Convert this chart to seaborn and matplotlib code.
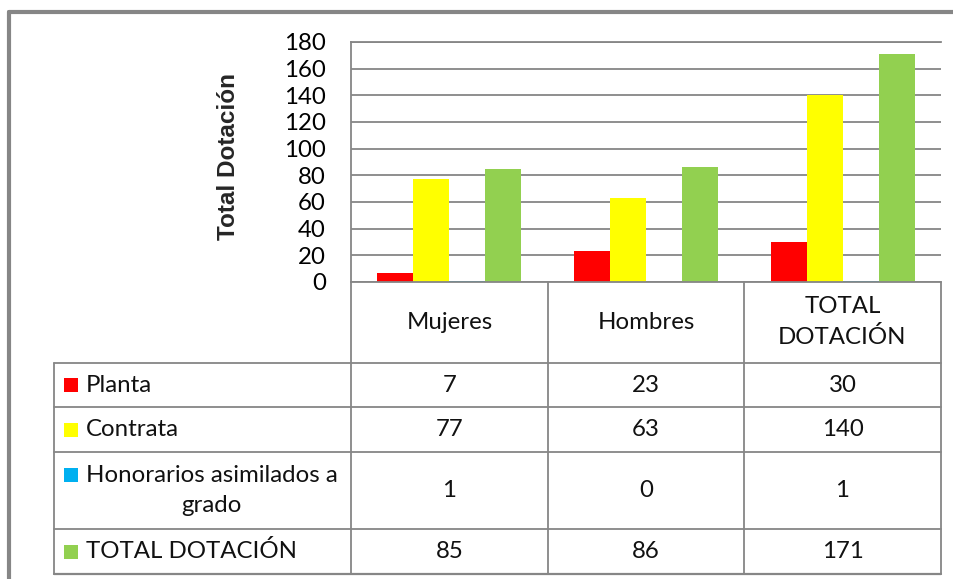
import pandas as pd
import matplotlib.pyplot as plt
from matplotlib.lines import Line2D
from matplotlib.patches import Rectangle
import seaborn as sns

# datos de la tabla
categorias = ['Mujeres', 'Hombres', 'TOTAL DOTACIÓN']
encabezados = ['Mujeres', 'Hombres', 'TOTAL\nDOTACIÓN']
series = ['Planta', 'Contrata', 'Honorarios asimilados a grado', 'TOTAL DOTACIÓN']
etiquetas_series = ['Planta', 'Contrata', 'Honorarios asimilados a\ngrado', 'TOTAL DOTACIÓN']
planta = [7, 23, 30]
contrata = [77, 63, 140]
honorarios = [1, 0, 1]
total = [85, 86, 171]
colores = ['#FF0000', '#FFFF00', '#00B0F0', '#92D050']

valores = [planta, contrata, honorarios, total]
filas = []
for s, vals in zip(series, valores):
    for c, v in zip(categorias, vals):
        filas.append({'categoria': c, 'serie': s, 'valor': v})
df = pd.DataFrame(filas)

sns.set_theme(style='white')
plt.rcParams['font.family'] = ['Lato', 'DejaVu Sans']

W, H = 954, 579
fig = plt.figure(figsize=(W / 100, H / 100), dpi=100)

def fx(x):
    return x / W

def fy(y):
    return 1 - y / H

gris = '#868686'
tam = 17.3
x_izq, x_der, y_top, y_cero = 351, 941, 42, 282
ax = fig.add_axes([fx(x_izq), fy(y_cero), fx(x_der - x_izq), fy(y_top) - fy(y_cero)])

sns.barplot(data=df, x='categoria', y='valor', hue='serie', order=categorias,
            hue_order=series, palette=colores, width=0.732, gap=0, saturation=1,
            linewidth=0, legend=False, ax=ax)

ax.set_xlim(-0.5, 2.5)
ax.set_ylim(0, 180)
ax.set_yticks(range(0, 181, 20))
ax.set_xticks([])
ax.set_xlabel('')
ax.set_ylabel('')
ax.yaxis.grid(True, color=gris, lw=1.3)
ax.set_axisbelow(True)
ax.tick_params(axis='y', length=0, pad=18, labelsize=tam, labelcolor='black')
for lado in ['left', 'bottom', 'top']:
    ax.spines[lado].set_color(gris)
    ax.spines[lado].set_linewidth(1.3)
ax.spines['right'].set_visible(False)

fig.text(fx(229), fy(156), 'Total Dotación', rotation=90, ha='center', va='center',
         fontsize=17.5, fontweight='heavy', fontstretch='condensed',
         family=['Liberation Sans Narrow', 'DejaVu Sans Condensed', 'Liberation Sans'])

# tabla de datos
def linea(x0, y0, x1, y1, lw=1.3):
    fig.add_artist(Line2D([fx(x0), fx(x1)], [fy(y0), fy(y1)], color=gris, lw=lw))

cols = [351, 548, 744, 941]
filas_y = [363, 407, 452, 529, 574]
for x in cols:
    linea(x, y_cero, x, filas_y[-1])
linea(54, filas_y[0], 54, filas_y[-1])
for y in filas_y:
    linea(54, y, x_der, y, lw=1.6 if y == filas_y[-1] else 1.3)

for i, enc in enumerate(encabezados):
    xc = (cols[i] + cols[i + 1]) / 2
    fig.text(fx(xc), fy(322), enc, ha='center', va='center', fontsize=tam,
             linespacing=1.5, color='#111111')

for j, (etq, vals, col) in enumerate(zip(etiquetas_series, valores, colores)):
    yc = (filas_y[j] + filas_y[j + 1]) / 2
    if '\n' in etq:
        y_key = yc - 16
    else:
        y_key = yc
    fig.text(fx(86), fy(yc), etq, ha='left', va='center', fontsize=tam,
             multialignment='center', linespacing=1.55, color='#111111')
    fig.add_artist(Rectangle((fx(64), fy(y_key + 7)), fx(14), fy(y_key - 7) - fy(y_key + 7),
                             facecolor=col, edgecolor='none', transform=fig.transFigure))
    for i, v in enumerate(vals):
        xc = (cols[i] + cols[i + 1]) / 2
        fig.text(fx(xc), fy(yc), str(v), ha='center', va='center', fontsize=tam, color='#111111')

# marco exterior
linea(9.5, 12, W, 12, lw=3)
linea(9.5, 12, 9.5, H, lw=3)

fig.savefig('out.png', dpi=100)
